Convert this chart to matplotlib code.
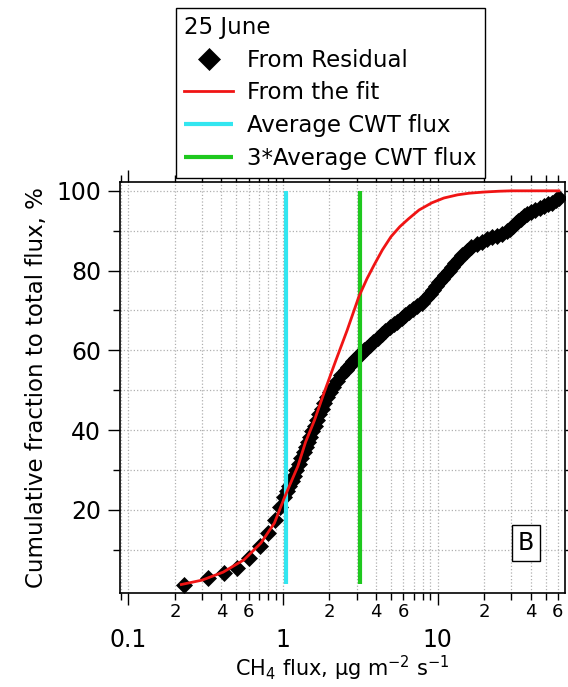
import numpy as np
import matplotlib
matplotlib.use("Agg")
import matplotlib.pyplot as plt
from matplotlib.ticker import LogLocator, FuncFormatter, FixedLocator

plt.rcParams['font.family'] = ['DejaVu Sans']

# cumulative fraction from residual (black diamonds)
resid_flux = [0.228, 0.326, 0.414, 0.501, 0.602, 0.711, 0.802, 0.891, 0.960, 1.02,
              1.06, 1.10, 1.14, 1.18, 1.22, 1.27, 1.31, 1.36, 1.41, 1.45,
              1.50, 1.55, 1.60, 1.66, 1.72, 1.78, 1.85, 1.93, 2.02, 2.12,
              2.24, 2.39, 2.55, 2.65, 2.75, 2.85, 2.97, 3.10, 3.22, 3.35,
              3.50, 3.65, 3.85, 4.10, 4.35, 4.6, 4.9, 5.2, 5.5, 5.85,
              6.2, 6.55, 6.9, 7.4, 7.9, 8.4, 8.9, 9.35, 9.8, 10.25,
              10.7, 11.25, 11.8, 12.4, 13.0, 13.7, 14.5, 15.5, 16.5, 17.9,
              19.5, 21.0, 22.5, 24.3, 26.3, 28.0, 29.5, 30.8, 32.0, 33.2,
              34.5, 36.2, 38.0, 40.5, 43.0, 46.0, 49.0, 52.0, 55.0, 58.5,
              61.0]
resid_frac = [1.2, 2.9, 4.1, 5.5, 7.9, 11.0, 14.3, 17.5, 20.8, 23.3,
              24.8, 26.0, 27.3, 28.6, 30.0, 31.5, 33.0, 34.5, 35.8, 37.0,
              38.4, 39.7, 41.0, 42.5, 44.0, 45.4, 46.8, 48.2, 49.5, 50.8,
              52.2, 53.8, 55.2, 55.9, 56.6, 57.3, 58.0, 58.7, 59.3, 60.0,
              60.6, 61.4, 62.2, 63.1, 64.0, 64.9, 65.8, 66.5, 67.2, 68.0,
              68.8, 69.6, 70.3, 71.1, 72.0, 73.1, 74.2, 75.2, 76.2, 77.1,
              78.0, 79.0, 80.0, 81.0, 82.0, 83.0, 84.0, 85.0, 85.8, 86.6,
              87.2, 87.8, 88.3, 88.8, 89.3, 89.9, 90.5, 91.3, 92.0, 92.5,
              93.0, 93.6, 94.2, 94.8, 95.3, 95.8, 96.3, 96.7, 97.0, 97.8,
              98.3]

# fitted curve (red)
fit_flux = [0.22, 0.30, 0.41, 0.56, 0.72, 0.88, 1.02, 1.10, 1.25, 1.40,
            1.6, 1.85, 2.2, 2.6, 3.1, 3.5, 3.9, 4.4, 5.0, 5.7,
            6.5, 7.6, 9.2, 11.0, 13.5, 16.0, 20.0, 25.0, 30.0, 40.0,
            61.0]
fit_frac = [1.3, 2.4, 4.4, 7.5, 11.7, 16.7, 23.0, 26.0, 31.0, 37.0,
            42.5, 49.5, 57.5, 65.0, 73.5, 78.0, 81.5, 85.2, 88.5, 91.0,
            93.0, 95.2, 97.0, 98.2, 99.0, 99.4, 99.7, 99.9, 100.0, 100.0,
            100.0]

cwt_avg = 1.05
cwt_avg3 = 3.15
vline_lo, vline_hi = 1.5, 100

fig = plt.figure(figsize=(5.68, 6.87), dpi=100)
ax = fig.add_axes([0.211, 0.137, 0.784, 0.598])

ax.plot(resid_flux, resid_frac, "D", color="black", ms=8.3, mew=0.5, zorder=2, label="From Residual")
ax.plot(fit_flux, fit_frac, "-", color="#f01414", lw=2.0, zorder=4, label="From the fit")
ax.vlines(cwt_avg, vline_lo, vline_hi, color="#33e6f0", lw=3.0, zorder=3, label="Average CWT flux")
ax.vlines(cwt_avg3, vline_lo, vline_hi, color="#1ec81e", lw=3.0, zorder=3, label="3*Average CWT flux")

ax.set_xscale("log")
ax.set_xlim(0.088, 67)
ax.set_ylim(-0.8, 102.2)

ax.xaxis.set_major_locator(FixedLocator([0.1, 1, 10]))
ax.xaxis.set_major_formatter(FuncFormatter(lambda v, p: "%g" % v))
ax.xaxis.set_minor_locator(LogLocator(base=10, subs=np.arange(2, 10), numticks=20))

def minor_lab(v, p):
    d = int(round(v / 10 ** np.floor(np.log10(v) + 1e-9)))
    return str(d) if d in (2, 4, 6) else ""

ax.xaxis.set_minor_formatter(FuncFormatter(minor_lab))
ax.yaxis.set_major_locator(FixedLocator([20, 40, 60, 80, 100]))
ax.yaxis.set_minor_locator(FixedLocator([10, 30, 50, 70, 90]))

ax.tick_params(which="both", direction="out", top=True, right=True, width=1.0, color="black")
ax.tick_params(which="major", length=8.5)
ax.tick_params(which="minor", length=5)
ax.tick_params(axis="x", which="major", labelsize=17, pad=17)
ax.tick_params(axis="x", which="minor", labelsize=13, pad=2)
ax.tick_params(axis="y", which="major", labelsize=17, pad=5)

ax.grid(which="both", linestyle=":", color="#b0b0b0", lw=0.9)
for s in ax.spines.values():
    s.set_linewidth(1.2)

ax.set_xlabel("CH$_4$ flux, μg m$^{-2}$ s$^{-1}$", fontsize=15, labelpad=1)
ax.set_ylabel("Cumulative fraction to total flux, %", fontsize=16.5, labelpad=6)

ax.text(0.912, 0.122, "B", transform=ax.transAxes, fontsize=17, ha="center", va="center",
        bbox=dict(boxstyle="square,pad=0.25", fc="white", ec="black", lw=1.0), zorder=6)

leg = fig.legend(loc="upper left", bbox_to_anchor=(176 / 568, 1 - 8 / 687),
                 title="25 June", alignment="left", fontsize=16.5, title_fontsize=16.5,
                 frameon=True, fancybox=False, edgecolor="black", framealpha=1,
                 handlelength=2.15, handletextpad=0.6, labelspacing=0.42,
                 borderpad=0.35, markerscale=1.35, borderaxespad=0)
leg.get_frame().set_linewidth(1.0)

fig.savefig("out.png", dpi=100)
